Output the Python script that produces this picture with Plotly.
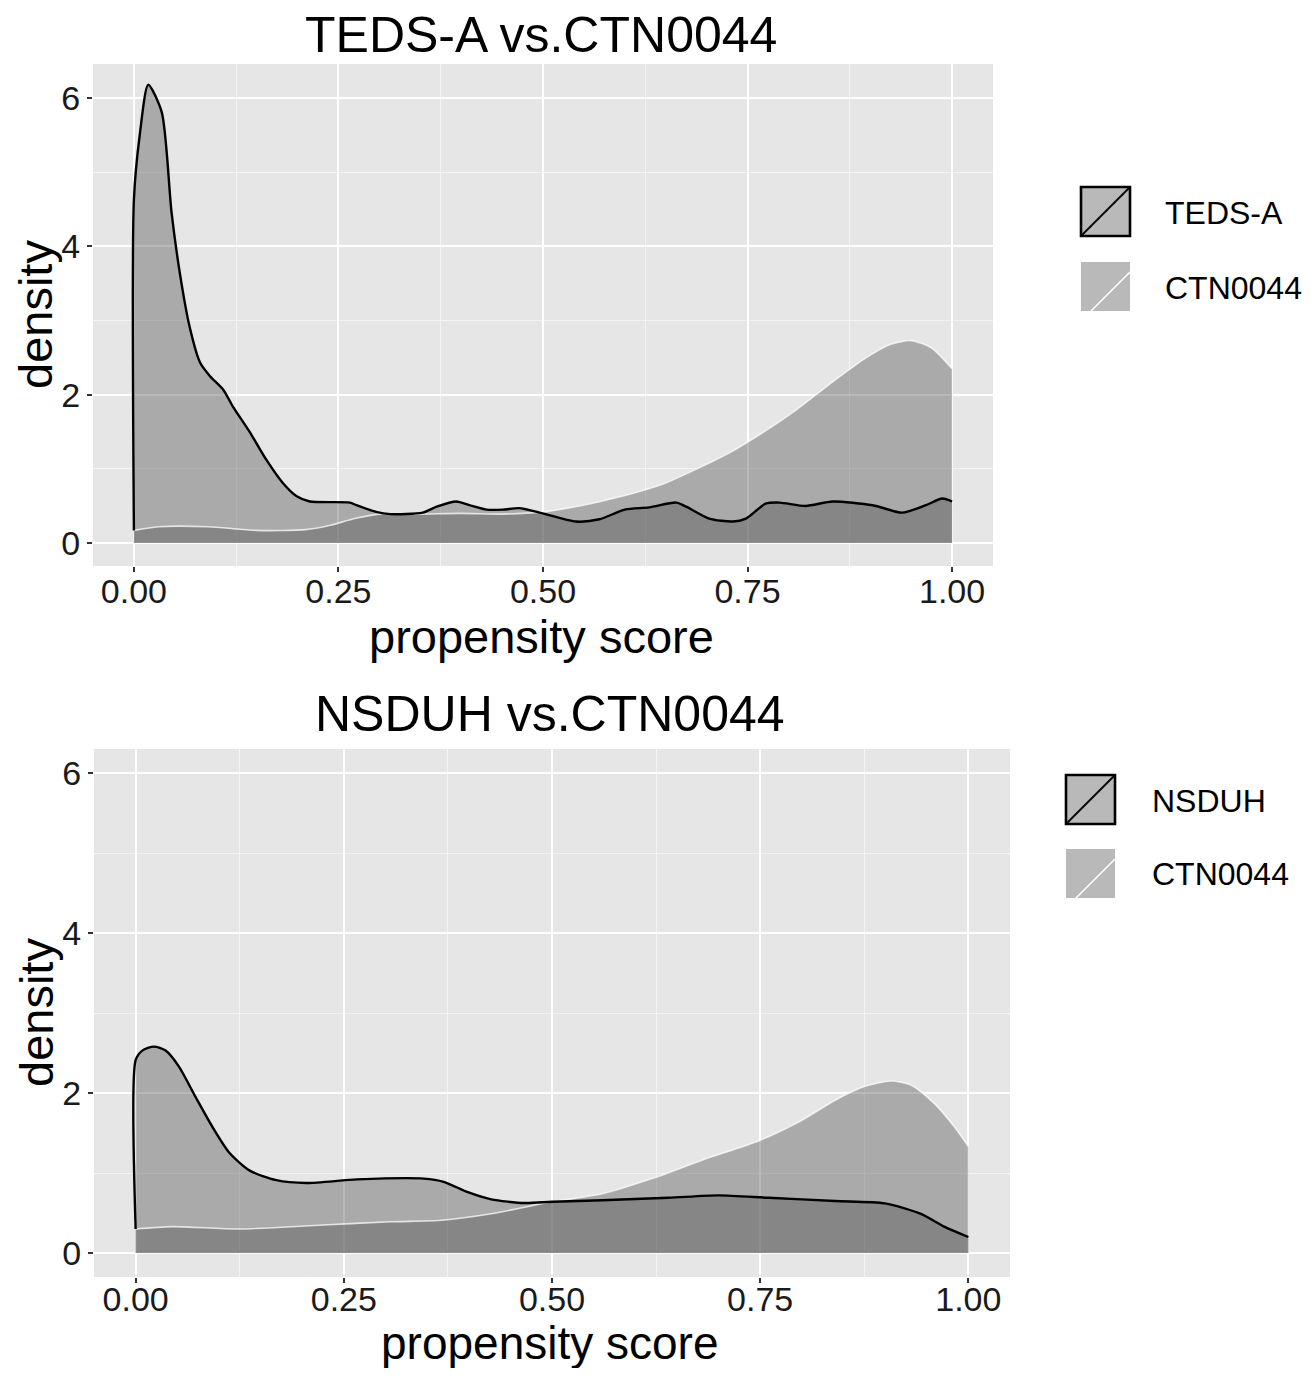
import plotly.graph_objects as go

# page body adds an 8px margin, so the figure is slightly smaller and offset
OFF = 8
W, H = 1300, 1360

# ---------------- data ----------------
top_title = "TEDS-A vs.CTN0044"
bot_title = "NSDUH vs.CTN0044"
top_groups = ["TEDS-A", "CTN0044"]
bot_groups = ["NSDUH", "CTN0044"]
x_ticks = [0.0, 0.25, 0.5, 0.75, 1.0]
y_ticks = [0, 2, 4, 6]

teds_x = [0.0, 0.007, 0.0175, 0.034, 0.046, 0.056, 0.068, 0.081, 0.093, 0.109, 0.121,
          0.142, 0.162, 0.182, 0.199, 0.215, 0.264, 0.272, 0.296, 0.313, 0.353, 0.37,
          0.394, 0.41, 0.431, 0.451, 0.471, 0.496, 0.54, 0.569, 0.60, 0.63, 0.663,
          0.675, 0.703, 0.732, 0.748, 0.772, 0.789, 0.821, 0.854, 0.903, 0.939, 0.968,
          0.988, 1.0]
teds_y = [4.63, 5.49, 6.18, 5.81, 4.46, 3.65, 2.92, 2.43, 2.25, 2.07, 1.84,
          1.49, 1.12, 0.81, 0.63, 0.56, 0.545, 0.51, 0.42, 0.39, 0.41, 0.49,
          0.56, 0.51, 0.45, 0.45, 0.47, 0.41, 0.29, 0.32, 0.45, 0.48, 0.545,
          0.49, 0.33, 0.29, 0.33, 0.53, 0.545, 0.50, 0.56, 0.51, 0.41, 0.51,
          0.60, 0.56]

ctn1_x = [0.0, 0.03, 0.09, 0.15, 0.21, 0.24, 0.27, 0.30, 0.35, 0.40, 0.45, 0.50, 0.53,
          0.57, 0.61, 0.65, 0.69, 0.73, 0.77, 0.81, 0.85, 0.895, 0.925, 0.95, 0.975, 1.0]
ctn1_y = [0.17, 0.22, 0.22, 0.17, 0.18, 0.24, 0.33, 0.39, 0.39, 0.40, 0.39, 0.42, 0.47,
          0.56, 0.67, 0.81, 1.01, 1.23, 1.50, 1.80, 2.14, 2.50, 2.68, 2.73, 2.63, 2.35]

nsduh_x = [0.0, 0.008, 0.022, 0.036, 0.052, 0.072, 0.092, 0.112, 0.137, 0.169, 0.205,
           0.266, 0.346, 0.37, 0.399, 0.427, 0.467, 0.50, 0.56, 0.64, 0.70, 0.76, 0.84,
           0.90, 0.943, 0.971, 1.0]
nsduh_y = [2.41, 2.53, 2.58, 2.53, 2.33, 1.95, 1.58, 1.26, 1.03, 0.91, 0.875,
           0.92, 0.93, 0.89, 0.76, 0.67, 0.625, 0.64, 0.66, 0.69, 0.72, 0.69, 0.65,
           0.62, 0.49, 0.33, 0.20]

ctn2_x = [0.0, 0.044, 0.124, 0.225, 0.306, 0.367, 0.427, 0.50, 0.56, 0.62, 0.68, 0.75,
          0.80, 0.84, 0.875, 0.907, 0.931, 0.959, 0.983, 1.0]
ctn2_y = [0.30, 0.33, 0.30, 0.35, 0.39, 0.41, 0.49, 0.64, 0.74, 0.93, 1.16, 1.41,
          1.66, 1.91, 2.08, 2.15, 2.10, 1.87, 1.58, 1.33]

# ---------------- styling ----------------
FONT = "Liberation Sans, Arial, Helvetica, sans-serif"
FILL = "rgba(80,80,80,0.4)"
KEYFILL = "#b9b9b9"
BG = "#e6e6e6"


def px(x):
    return (x - OFF) / W


def py(y):
    return 1 - (y - OFF) / H


fig = go.Figure()


def add_panel(xa, ya, gx, gy, cx, cy):
    fig.add_trace(go.Scatter(x=gx, y=gy, xaxis=xa, yaxis=ya, mode="lines",
                             fill="tozeroy", fillcolor=FILL, line=dict(width=0, shape="spline", smoothing=0.7),
                             hoverinfo="skip", showlegend=False))
    fig.add_trace(go.Scatter(x=cx, y=cy, xaxis=xa, yaxis=ya, mode="lines",
                             fill="tozeroy", fillcolor=FILL, line=dict(width=0, shape="spline", smoothing=0.7),
                             hoverinfo="skip", showlegend=False))
    fig.add_trace(go.Scatter(x=cx, y=cy, xaxis=xa, yaxis=ya, mode="lines",
                             line=dict(color="rgba(255,255,255,0.75)", width=1.6, shape="spline", smoothing=0.7),
                             hoverinfo="skip", showlegend=False))
    fig.add_trace(go.Scatter(x=[gx[0]] + gx, y=[cy[0]] + gy, xaxis=xa, yaxis=ya, mode="lines",
                             line=dict(color="black", width=2.4, shape="spline", smoothing=0.7),
                             hoverinfo="skip", showlegend=False))


add_panel("x", "y", teds_x, teds_y, ctn1_x, ctn1_y)
add_panel("x2", "y2", nsduh_x, nsduh_y, ctn2_x, ctn2_y)


def xaxis(domain, anchor, standoff):
    return dict(domain=domain, anchor=anchor, range=[-0.05, 1.05], tickvals=x_ticks,
                ticktext=[f"{v:.2f}" for v in x_ticks],
                showgrid=True, gridcolor="white", gridwidth=2.2, zeroline=False,
                ticks="outside", ticklen=5, tickwidth=1.5, tickcolor="#333333",
                ticklabelstandoff=standoff,
                tickfont=dict(family=FONT, size=34, color="#1a1a1a"),
                minor=dict(tickvals=[0.125, 0.375, 0.625, 0.875], showgrid=True,
                           gridcolor="#f4f4f4", gridwidth=1.1, ticks=""),
                showline=False, fixedrange=True)


def yaxis(domain, anchor, rng):
    return dict(domain=domain, anchor=anchor, range=rng, tickvals=y_ticks,
                showgrid=True, gridcolor="white", gridwidth=2.2, zeroline=False,
                ticks="outside", ticklen=5, tickwidth=1.5, tickcolor="#333333",
                tickfont=dict(family=FONT, size=34, color="#1a1a1a"),
                minor=dict(tickvals=[1, 3, 5], showgrid=True,
                           gridcolor="#f4f4f4", gridwidth=1.1, ticks=""),
                showline=False, fixedrange=True)


annotations = []


def text(t, x, y, size, angle=0, xanchor="center"):
    annotations.append(dict(text=t, x=px(x), y=py(y), xref="paper", yref="paper",
                            showarrow=False, textangle=angle, xanchor=xanchor, yanchor="middle",
                            font=dict(family=FONT, size=size, color="black")))


text(top_title, 541, 35, 50)
text(bot_title, 550, 714, 50)
text("propensity score", 541, 636, 47)
text("propensity score", 550, 1343, 46)
text("density", 36, 315, 47, angle=-90)
text("density", 36, 1013, 47, angle=-90)

shapes = []


def legend(x0, ys, labels, tx):
    size = 49
    for i, (y0, lab) in enumerate(zip(ys, labels)):
        if i == 0:
            shapes.append(dict(type="rect", xref="paper", yref="paper",
                               x0=px(x0), x1=px(x0 + size), y0=py(y0 + size), y1=py(y0),
                               fillcolor=KEYFILL, line=dict(color="black", width=2.6)))
            shapes.append(dict(type="line", xref="paper", yref="paper",
                               x0=px(x0), x1=px(x0 + size), y0=py(y0 + size), y1=py(y0),
                               line=dict(color="black", width=1.8)))
        else:
            shapes.append(dict(type="rect", xref="paper", yref="paper",
                               x0=px(x0), x1=px(x0 + size), y0=py(y0 + size), y1=py(y0),
                               fillcolor=KEYFILL, line=dict(width=0)))
            shapes.append(dict(type="line", xref="paper", yref="paper",
                               x0=px(x0 + 10), x1=px(x0 + size), y0=py(y0 + size), y1=py(y0 + 10),
                               line=dict(color="white", width=1.6)))
        text(lab, tx, y0 + size / 2 + 1, 32, xanchor="left")


legend(1081, [187, 262], top_groups, 1163)
legend(1066, [775, 849], bot_groups, 1150)

fig.update_layout(
    width=W, height=H, margin=dict(l=0, r=0, t=0, b=0),
    paper_bgcolor="white", plot_bgcolor=BG, showlegend=False,
    xaxis=xaxis([px(93), px(993)], "y", -10),
    yaxis=yaxis([py(566), py(64)], "x", [-0.31, 6.46]),
    xaxis2=xaxis([px(94), px(1010)], "y2", -13),
    yaxis2=yaxis([py(1277), py(749)], "x2", [-0.30, 6.30]),
    annotations=annotations, shapes=shapes,
)

fig.write_html("out.html")
